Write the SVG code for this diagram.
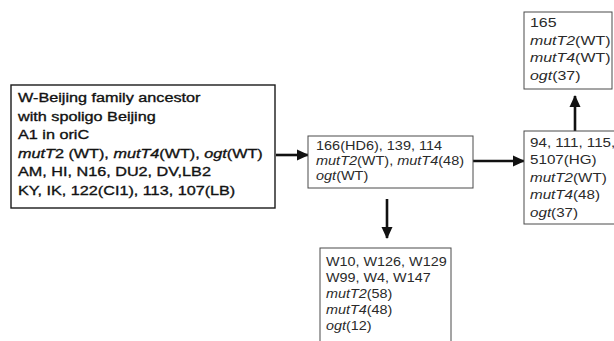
<svg xmlns="http://www.w3.org/2000/svg" width="614" height="341" viewBox="0 0 614 341">
<style>
.b1{fill:#fff;stroke:#1a1a1a;stroke-width:1.4}
.bx{fill:#fff;stroke:#4a4a4a;stroke-width:1}
.t1{font-family:"Liberation Sans",Arial,sans-serif;font-size:13.5px;fill:#111;stroke:#111;stroke-width:0.35}
.t{font-family:"Liberation Sans",Arial,sans-serif;font-size:12.5px;fill:#2a2a2a}
.i{font-style:italic}
.ar{stroke:#111;stroke-width:2.6;fill:none}
</style>
<defs>
<marker id="ah" markerUnits="userSpaceOnUse" markerWidth="12" markerHeight="12" refX="11" refY="6" orient="auto" viewBox="0 0 12 12">
<path d="M0,0.5 L12,6 L0,11.5 Z" fill="#111"/>
</marker>
</defs>
<g id="connectors">
<line class="ar" x1="276" y1="155" x2="308" y2="155" marker-end="url(#ah)"/>
<line class="ar" x1="473" y1="161" x2="524" y2="161" marker-end="url(#ah)"/>
<line class="ar" x1="387" y1="199" x2="387" y2="238" marker-end="url(#ah)"/>
<line class="ar" x1="575" y1="131" x2="575" y2="96" marker-end="url(#ah)"/>
</g>
<g id="node-ancestor">
<rect class="b1" x="11" y="85" width="264" height="123"/>
<text class="t1" transform="translate(18,0) scale(1.2,1)">
<tspan x="0" y="102">W-Beijing family ancestor</tspan>
<tspan x="0" y="120.6">with spoligo Beijing</tspan>
<tspan x="0" y="139.2">A1 in oriC</tspan>
<tspan x="0" y="157.8"><tspan class="i">mutT</tspan>2 (WT), <tspan class="i">mutT4</tspan>(WT), <tspan class="i">ogt</tspan>(WT)</tspan>
<tspan x="0" y="176.4">AM, HI, N16, DU2, DV,LB2</tspan>
<tspan x="0" y="195">KY, IK, 122(CI1), 113, 107(LB)</tspan>
</text>
</g>
<g id="node-166">
<rect class="bx" x="308" y="136" width="165" height="52"/>
<text class="t" transform="translate(316,0) scale(1.16,1)">
<tspan x="0" y="150">166(HD6), 139, 114</tspan>
<tspan x="0" y="165"><tspan class="i">mutT2</tspan>(WT), <tspan class="i">mutT4</tspan>(48)</tspan>
<tspan x="0" y="180"><tspan class="i">ogt</tspan>(WT)</tspan>
</text>
</g>
<g id="node-W10">
<rect class="bx" x="320" y="248" width="131" height="110"/>
<text class="t" transform="translate(326,0) scale(1.15,1)">
<tspan x="0" y="266">W10, W126, W129</tspan>
<tspan x="0" y="282">W99, W4, W147</tspan>
<tspan x="0" y="298"><tspan class="i">mutT2</tspan>(58)</tspan>
<tspan x="0" y="314"><tspan class="i">mutT4</tspan>(48)</tspan>
<tspan x="0" y="330"><tspan class="i">ogt</tspan>(12)</tspan>
</text>
</g>
<g id="node-94">
<rect class="bx" x="524" y="131" width="100" height="93"/>
<text class="t" style="font-size:13px" transform="translate(530,0) scale(1.17,1)">
<tspan x="0" y="147">94, 111, 115,</tspan>
<tspan x="0" y="164.5">5107(HG)</tspan>
<tspan x="0" y="182"><tspan class="i">mutT2</tspan>(WT)</tspan>
<tspan x="0" y="199.5"><tspan class="i">mutT4</tspan>(48)</tspan>
<tspan x="0" y="217"><tspan class="i">ogt</tspan>(37)</tspan>
</text>
</g>
<g id="node-165">
<rect class="bx" x="524" y="12" width="88" height="77"/>
<text class="t" style="font-size:13.5px" transform="translate(530,0) scale(1.18,1)">
<tspan x="0" y="27">165</tspan>
<tspan x="0" y="45"><tspan class="i">mutT2</tspan>(WT)</tspan>
<tspan x="0" y="62"><tspan class="i">mutT4</tspan>(WT)</tspan>
<tspan x="0" y="80"><tspan class="i">ogt</tspan>(37)</tspan>
</text>
</g>
</svg>
